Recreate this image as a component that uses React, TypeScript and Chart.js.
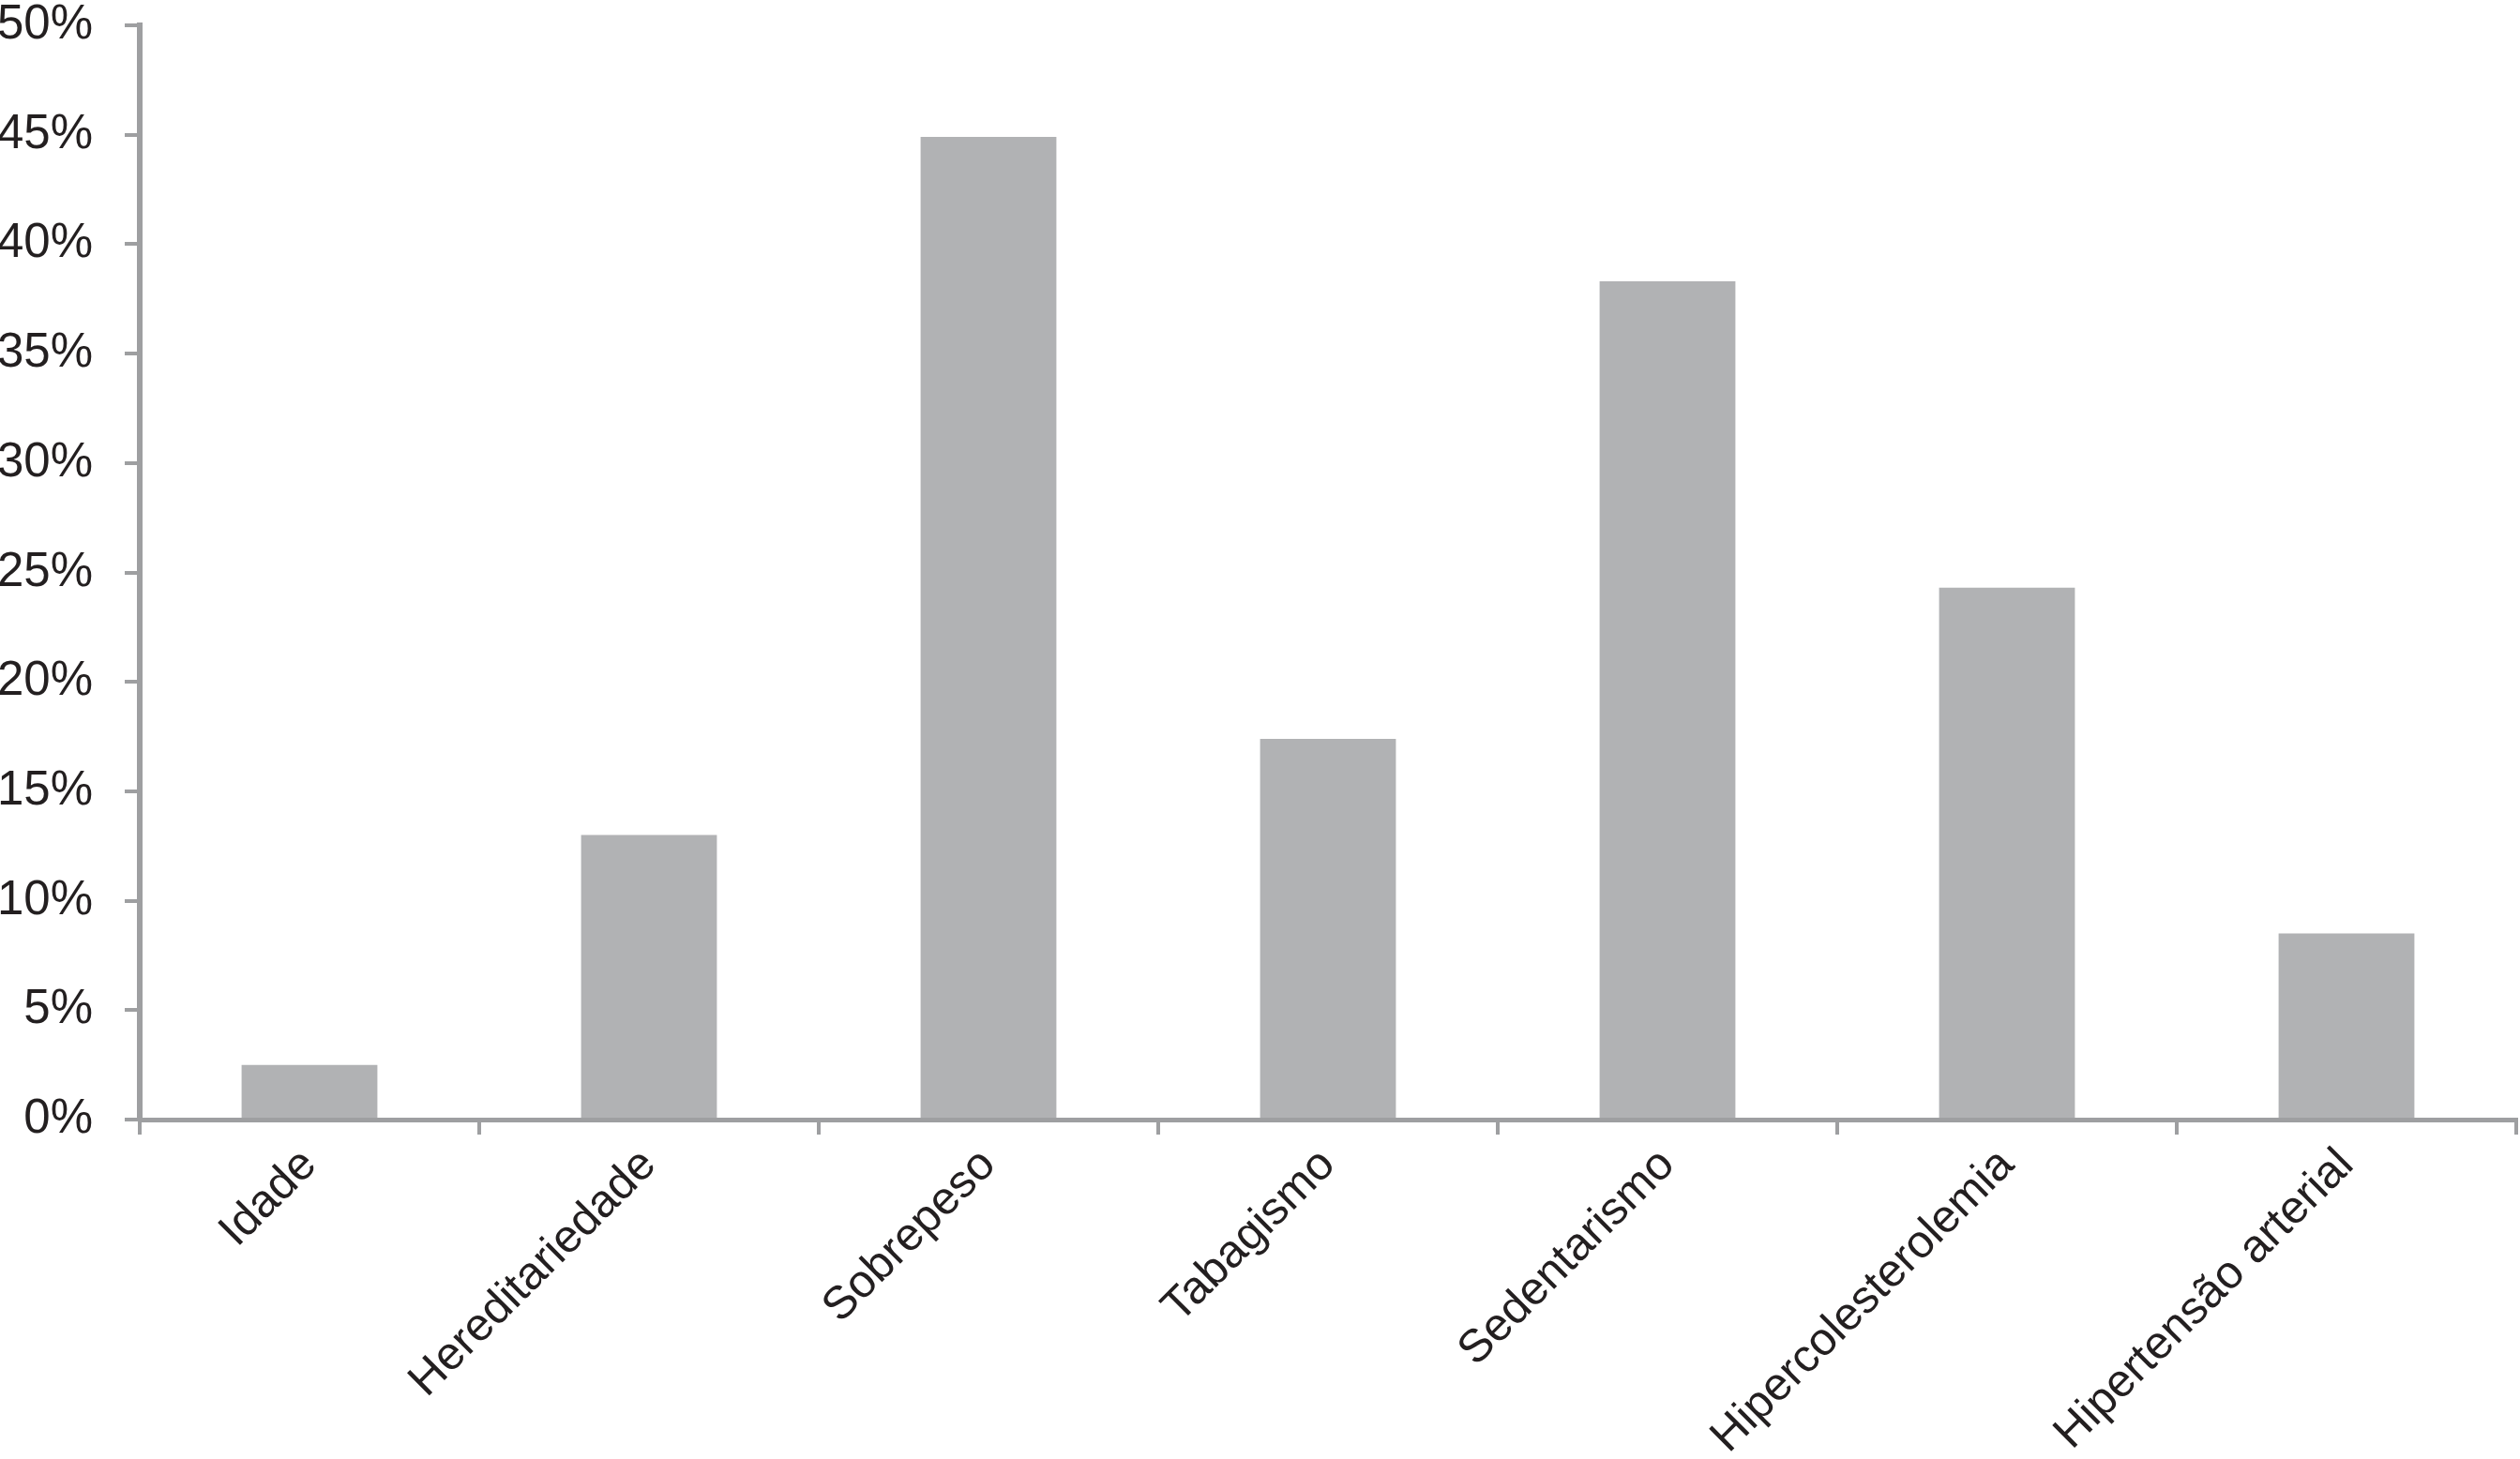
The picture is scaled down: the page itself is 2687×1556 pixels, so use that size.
import React, { useEffect, useRef } from "react";
import { Chart, registerables } from "chart.js";

Chart.register(...registerables);

const categories = [
  "Idade",
  "Hereditariedade",
  "Sobrepeso",
  "Tabagismo",
  "Sedentarismo",
  "Hipercolesterolemia",
  "Hipertensão arterial",
];
const values = [2.5, 13.0, 44.9, 17.4, 38.3, 24.3, 8.5];
const yTickStep = 5;
const yMax = 50;

const W = 2687;
const H = 1556;
const AXIS = "#9e9fa1";
const BAR = "#b1b2b4";
const TEXT = "#231f20";
const FONT = "'Liberation Sans', Arial, Helvetica, sans-serif";

export default function App() {
  const ref = useRef<HTMLCanvasElement | null>(null);
  useEffect(() => {
    if (!ref.current) return;
    const chart = new Chart(ref.current, {
      type: "bar",
      data: {
        labels: categories,
        datasets: [
          {
            data: values,
            backgroundColor: BAR,
            borderWidth: 0,
            categoryPercentage: 1,
            barPercentage: 0.4,
          },
        ],
      },
      options: {
        animation: false,
        responsive: false,
        devicePixelRatio: 1,
        layout: { padding: { top: 27, right: 4, left: 0, bottom: 0 } },
        plugins: { legend: { display: false }, tooltip: { enabled: false } },
        scales: {
          x: {
            afterFit: (s: any) => {
              s.height = H - 1194;
              s.paddingLeft = 0;
              s.paddingRight = 0;
            },
            border: { display: true, color: AXIS, width: 5 },
            grid: {
              display: true,
              drawOnChartArea: false,
              drawTicks: true,
              tickLength: 16,
              color: AXIS,
              lineWidth: 4,
              offset: true,
            },
            ticks: {
              autoSkip: false,
              maxRotation: 45,
              minRotation: 45,
              color: TEXT,
              padding: 4,
              font: { family: FONT, size: 49 },
            },
          },
          y: {
            min: 0,
            max: yMax,
            afterFit: (s: any) => {
              s.width = 149;
              s.paddingTop = 0;
              s.paddingBottom = 0;
            },
            border: { display: true, color: AXIS, width: 6 },
            grid: {
              display: true,
              drawOnChartArea: false,
              drawTicks: true,
              tickLength: 16,
              color: AXIS,
              lineWidth: 4,
            },
            ticks: {
              stepSize: yTickStep,
              color: TEXT,
              padding: 34,
              font: { family: FONT, size: 51 },
              callback: (v: any) => `${v}%`,
            },
          },
        },
      },
    });
    return () => chart.destroy();
  }, []);
  return (
    <div style={{ position: "fixed", left: 0, top: 0, width: W, height: H, background: "#fff" }}>
      <canvas ref={ref} width={W} height={H} style={{ width: W, height: H, display: "block" }} />
    </div>
  );
}
